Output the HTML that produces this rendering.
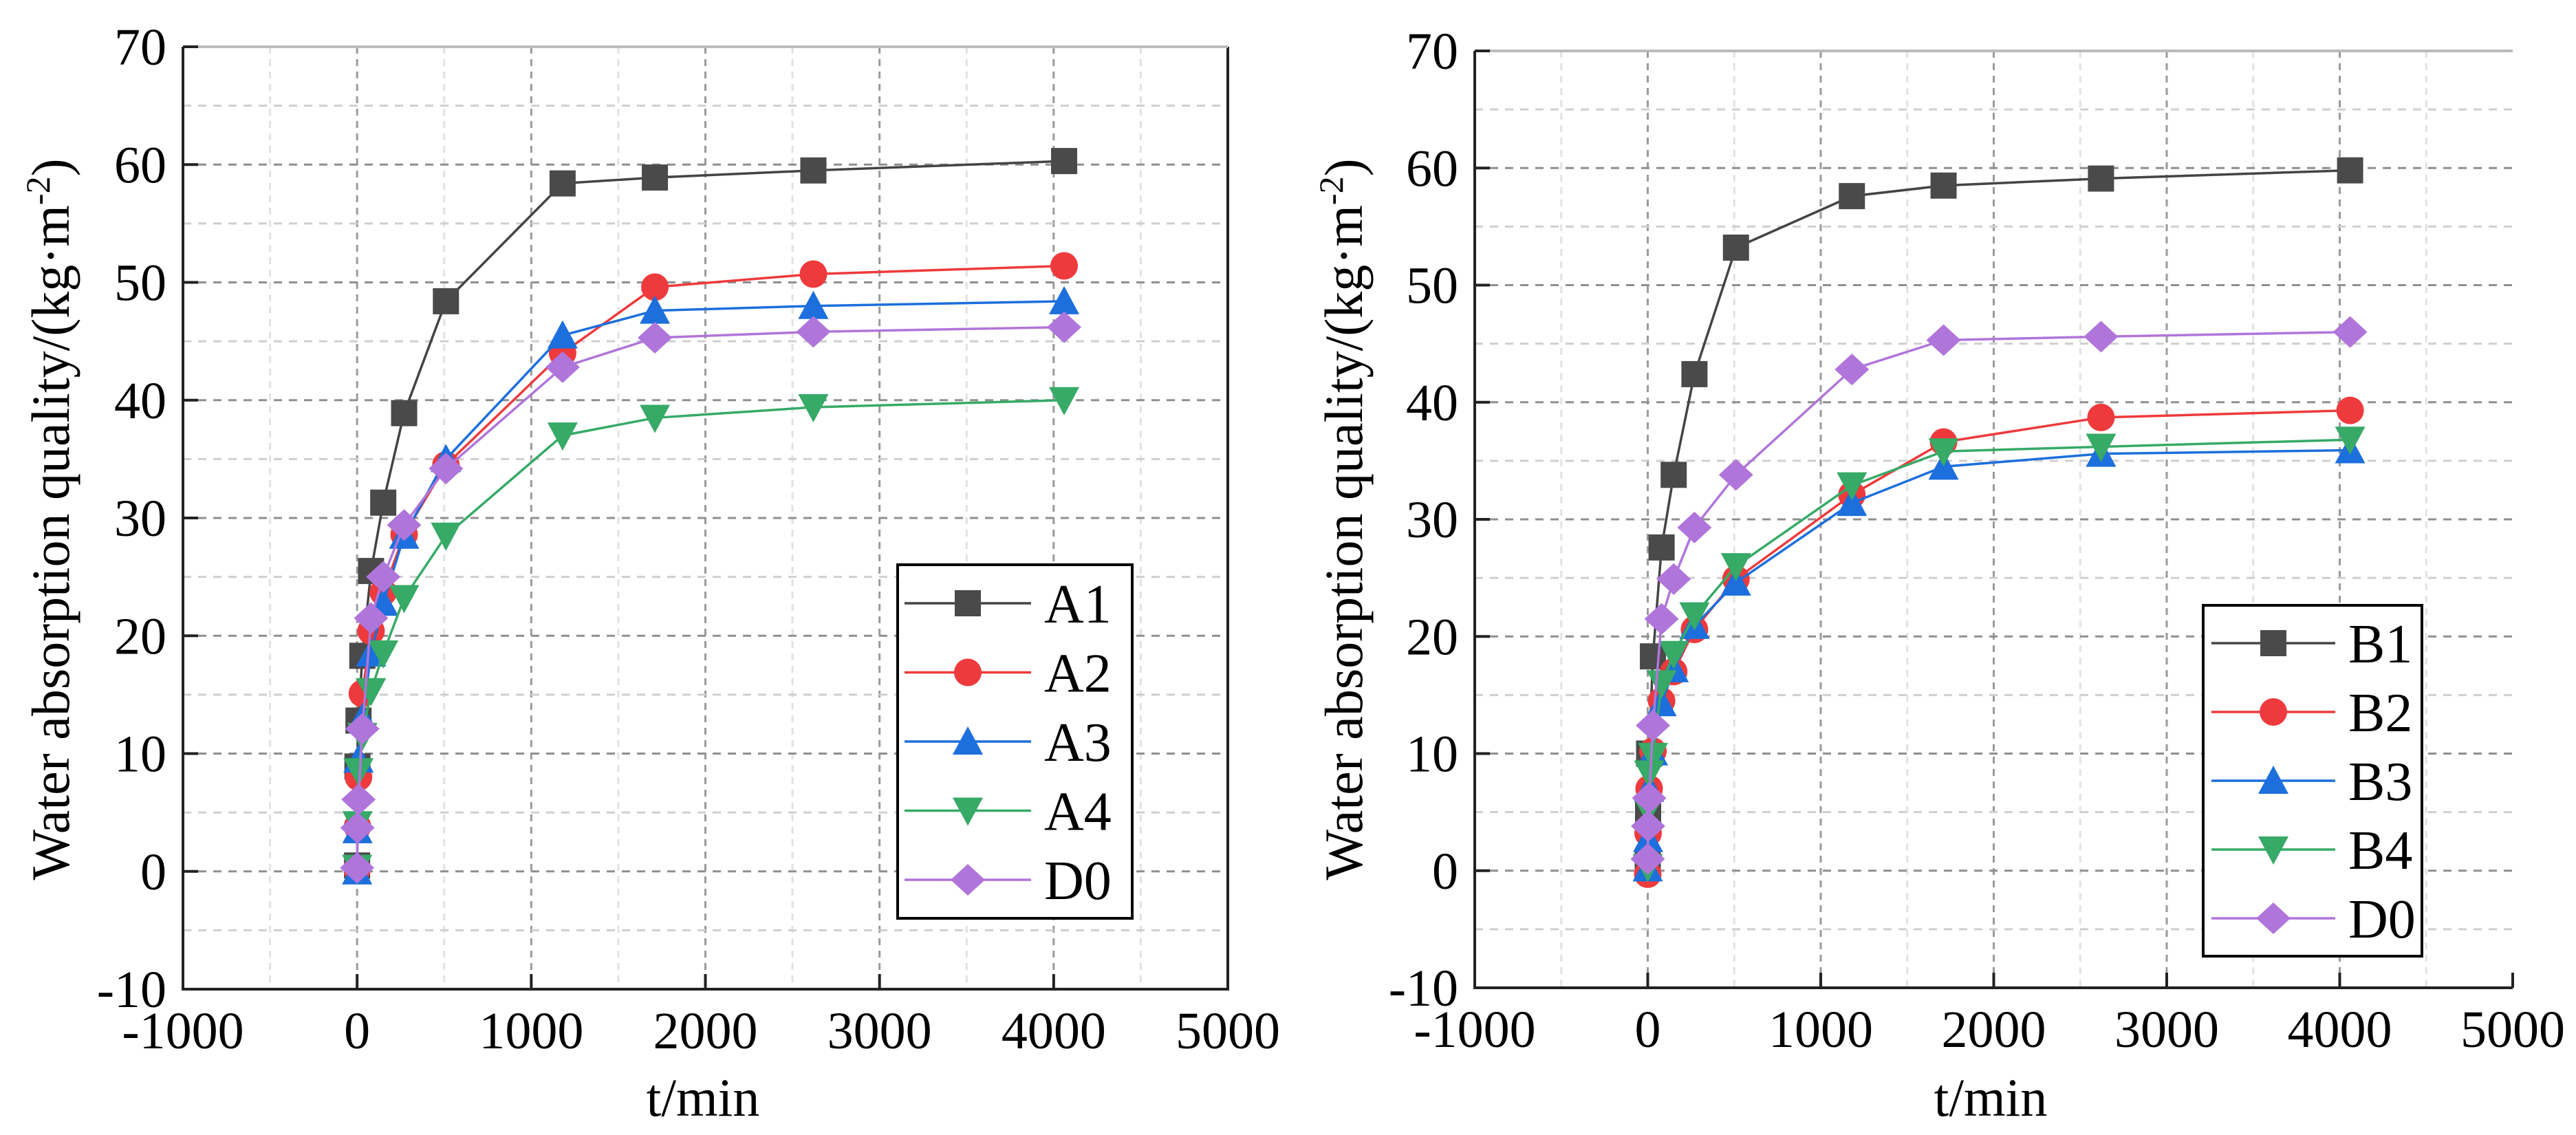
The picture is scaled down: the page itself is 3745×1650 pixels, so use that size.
<!DOCTYPE html>
<html><head><meta charset="utf-8"><style>
html,body{margin:0;padding:0;background:#fff;}
svg{display:block;}
text{font-family:"Liberation Serif","Times New Roman",serif;fill:#000;}
</style></head>
<body>
<svg id="chart" width="3745" height="1650" viewBox="0 0 3745 1650" xmlns="http://www.w3.org/2000/svg"></svg>
<script>
const times = [0, 2, 8, 30, 80, 150, 270, 510, 1180, 1710, 2620, 4060];
const seriesNamesA = ["A1","A2","A3","A4","D0"];
const seriesNamesB = ["B1","B2","B3","B4","D0"];
const valuesA1 = [0.5, 8.9, 12.8, 18.3, 25.5, 31.3, 38.9, 48.4, 58.4, 58.9, 59.5, 60.3];
const valuesA2 = [0.2, 3.8, 8.0, 15.1, 20.4, 23.7, 28.6, 34.5, 44.0, 49.6, 50.7, 51.4];
const valuesA3 = [0.0, 3.5, 9.5, 13.0, 18.5, 22.8, 28.5, 35.0, 45.5, 47.6, 48.0, 48.4];
const valuesA4 = [0.3, 4.0, 8.5, 11.5, 15.3, 18.5, 23.2, 28.5, 37.0, 38.5, 39.4, 40.0];
const valuesA5 = [0.3, 3.7, 6.1, 12.1, 21.5, 25.0, 29.4, 34.2, 42.8, 45.3, 45.8, 46.2];
const valuesB1 = [0.5, 5.0, 10.0, 18.3, 27.6, 33.8, 42.4, 53.2, 57.6, 58.5, 59.1, 59.8];
const valuesB2 = [-0.3, 3.2, 7.0, 10.2, 14.5, 17.0, 20.6, 24.9, 32.1, 36.6, 38.7, 39.3];
const valuesB3 = [0.2, 2.7, 7.0, 10.1, 14.3, 17.2, 20.9, 24.6, 31.4, 34.5, 35.6, 35.9];
const valuesB4 = [0.3, 5.2, 8.3, 9.8, 16.0, 18.5, 21.8, 26.0, 32.9, 35.8, 36.2, 36.8];
const valuesB5 = [1.0, 3.8, 6.2, 12.4, 21.5, 24.9, 29.3, 33.8, 42.8, 45.3, 45.6, 46.0];
const xTicks = [-1000, 0, 1000, 2000, 3000, 4000, 5000];
const yTicks = [-10, 0, 10, 20, 30, 40, 50, 60, 70];

const NS = "http://www.w3.org/2000/svg";
const svg = document.getElementById("chart");
const colors = ["#4a4a4a","#ee3a3c","#1c6fdc","#36aa66","#b075da"];
const lineColors = ["#444","#ee3a3c","#1c6fdc","#36aa66","#b075da"];
const shapes = ["square","circle","up","down","diamond"];

function el(tag, attrs, parent){
  const e = document.createElementNS(NS, tag);
  for (const k in attrs) e.setAttribute(k, attrs[k]);
  (parent||svg).appendChild(e);
  return e;
}
function marker(shape, cx, cy, color, g){
  const s = 19;
  let m;
  if (shape==="square") m = el("rect",{x:cx-s,y:cy-s,width:2*s,height:2*s,fill:color},g);
  else if (shape==="circle") m = el("circle",{cx:cx,cy:cy,r:s+1,fill:color},g);
  else if (shape==="up") m = el("polygon",{points:`${cx},${cy-s-3} ${cx+s+3},${cy+s} ${cx-s-3},${cy+s}`,fill:color},g);
  else if (shape==="down") m = el("polygon",{points:`${cx},${cy+s+3} ${cx+s+3},${cy-s} ${cx-s-3},${cy-s}`,fill:color},g);
  else m = el("polygon",{points:`${cx},${cy-s-4} ${cx+s+6},${cy} ${cx},${cy+s+4} ${cx-s-6},${cy}`,fill:color},g);
  return m;
}

function drawPanel(cfg){
  const {x0,x1,y0,y1,names,data,prefix,legend,ylabX,xlabX} = cfg;
  const xmin=-1000,xmax=5000,ymin=-10,ymax=70;
  const X = v => x0 + (v-xmin)/(xmax-xmin)*(x1-x0);
  const Y = v => y1 - (v-ymin)/(ymax-ymin)*(y1-y0);
  const g = el("g",{});
  
  
  for (let v=-500; v<=4500; v+=500){
    const major = v%1000===0;
    const l = el("line",{x1:X(v),x2:X(v),y1:y0,y2:y1,stroke:major?"#9a9a9a":"#e2e2e2","stroke-width":3,"stroke-dasharray":"10,8"},g);
    
    
  }
  for (let v=-5; v<=65; v+=5){
    const major = v%10===0;
    const l = el("line",{x1:x0,x2:x1,y1:Y(v),y2:Y(v),stroke:major?"#8f8f8f":"#cfcfcf","stroke-width":3,"stroke-dasharray":"12,10"},g);
    
    
  }
  const ax = el("path",{d:`M${x0},${y0} L${x0},${y1} L${x1},${y1}`+(cfg.rightSpine?` L${x1},${y0}`:''),fill:"none",stroke:"#222","stroke-width":4},g);
  
  
  const top = el("line",{x1:x0,x2:x1,y1:y0,y2:y0,stroke:"#bbb","stroke-width":4},g);
  
  
  yTicks.forEach(v=>{
    const t = el("line",{x1:x0,x2:x0+22,y1:Y(v),y2:Y(v),stroke:"#222","stroke-width":4},g);
    
    
    const tx = el("text",{x:x0-24,y:Y(v)+26,"font-size":76,"text-anchor":"end"},g);
    tx.textContent = String(v);
    
    
  });
  xTicks.forEach(v=>{
    const t = el("line",{x1:X(v),x2:X(v),y1:y1,y2:y1-22,stroke:"#222","stroke-width":4},g);
    
    
    const tx = el("text",{x:X(v),y:y1+86,"font-size":76,"text-anchor":"middle"},g);
    tx.textContent = String(v);
    
    
  });
  const xl = el("text",{x:xlabX,y:1622,"font-size":78,"text-anchor":"middle"},g);
  xl.textContent = "t/min";
  
  
  const yl = el("text",{x:0,y:0,"font-size":78,"text-anchor":"middle",transform:`translate(${ylabX},755) rotate(-90)`},g);
  yl.innerHTML = 'Water absorption quality/(kg·m<tspan baseline-shift="super" font-size="50">-2</tspan>)';
  
  
  data.forEach((vals,i)=>{
    const sg = el("g",{},g);
    
    
    const pts = vals.map((v,j)=>`${X(times[j])},${Y(v)}`).join(" ");
    const pl = el("polyline",{points:pts,fill:"none",stroke:lineColors[i],"stroke-width":3.5},sg);
    
    
    vals.forEach((v,j)=>{
      const m = marker(shapes[i], X(times[j]), Y(v), colors[i], sg);
      
      
    });
  });
  const lg = el("g",{},g);
  
  
  const box = el("rect",{x:legend.x,y:legend.y,width:legend.w,height:legend.h,fill:"#fff",stroke:"#000","stroke-width":4},lg);
  
  
  names.forEach((n,i)=>{
    const cy = legend.y0 + i*legend.dy;
    const eg = el("g",{},lg);
    
    
    el("line",{x1:legend.lx1,x2:legend.lx2,y1:cy,y2:cy,stroke:lineColors[i],"stroke-width":3.5},eg);
    marker(shapes[i], (legend.lx1+legend.lx2)/2, cy, colors[i], eg);
    const t = el("text",{x:legend.tx,y:cy+28,"font-size":80},eg);
    t.textContent = n;
  });
}

drawPanel({x0:266,x1:1785,y0:68,y1:1438,names:seriesNamesA,
  data:[valuesA1,valuesA2,valuesA3,valuesA4,valuesA5],prefix:"left",rightSpine:true,
  legend:{x:1305,y:821,w:341,h:514,y0:877,dy:100.5,lx1:1315,lx2:1499,tx:1518},
  ylabX:100,xlabX:1022});
drawPanel({x0:2144,x1:3653,y0:74,y1:1436,names:seriesNamesB,
  data:[valuesB1,valuesB2,valuesB3,valuesB4,valuesB5],prefix:"right",rightSpine:false,
  legend:{x:3203,y:880,w:318,h:510,y0:935,dy:100,lx1:3215,lx2:3395,tx:3414},
  ylabX:1980,xlabX:2894});
</script>
</body></html>
